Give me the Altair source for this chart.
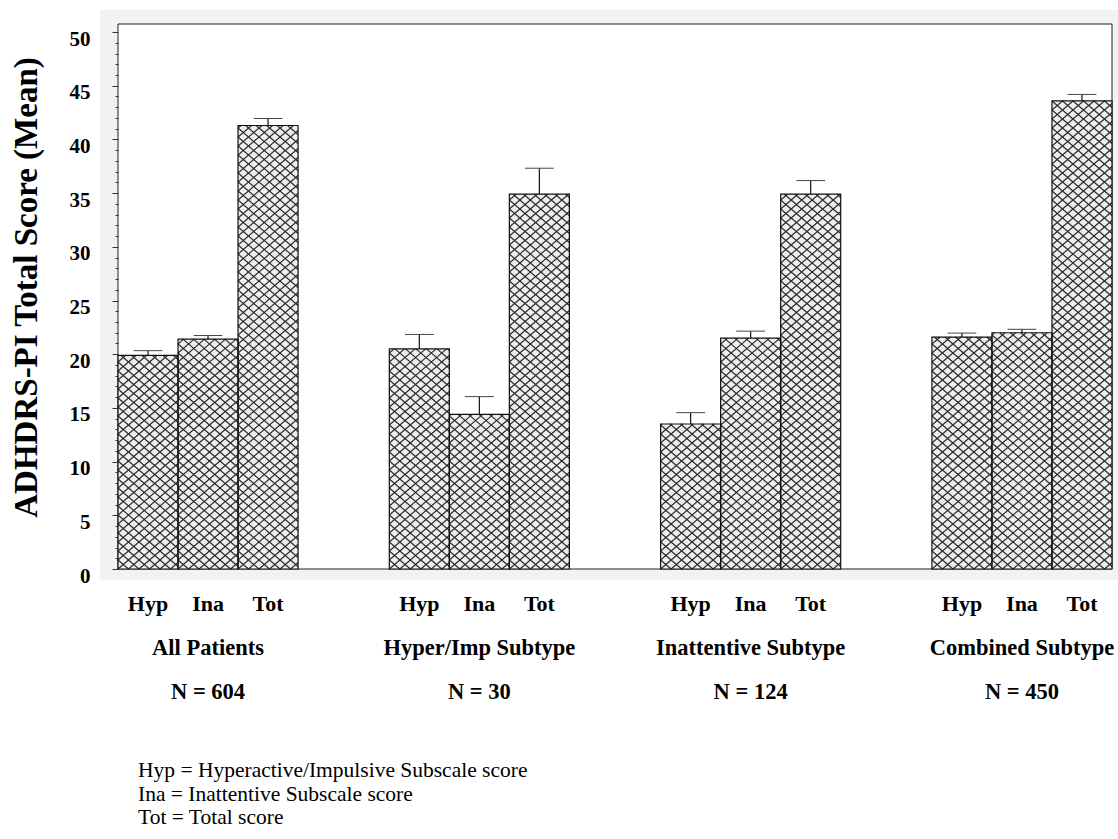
import math

import altair as alt
import pandas as pd

# ---- data -------------------------------------------------------------
groups = ["All Patients", "Hyper/Imp Subtype", "Inattentive Subtype", "Combined Subtype"]
group_n = [604, 30, 124, 450]
subscales = ["Hyp", "Ina", "Tot"]

hyp_mean = [19.9, 20.5, 13.5, 21.6]
ina_mean = [21.4, 14.4, 21.5, 22.0]
tot_mean = [41.3, 34.9, 34.9, 43.6]

hyp_err = [0.43, 1.34, 1.06, 0.37]
ina_err = [0.34, 1.65, 0.65, 0.32]
tot_err = [0.65, 2.42, 1.27, 0.59]

y_title = "ADHDRS-PI Total Score (Mean)"
y_ticks = list(range(0, 51))
footnote = [
    "Hyp = Hyperactive/Impulsive Subscale score",
    "Ina = Inattentive Subscale score",
    "Tot = Total score",
]

# ---- layout -----------------------------------------------------------
WIDTH, HEIGHT = 994, 545
GROUP_STEP = 4.52          # distance between group starts, in bar widths
X_MAX = 3 * GROUP_STEP + 3
Y_MAX = 50.75
FONT = "Liberation Serif"
HATCH_W, HATCH_H = 10.5, 9.0  # diamond size of the cross-hatch, px

means = {"Hyp": hyp_mean, "Ina": ina_mean, "Tot": tot_mean}
errs = {"Hyp": hyp_err, "Ina": ina_err, "Tot": tot_err}

rows = []
for gi, g in enumerate(groups):
    for si, s in enumerate(subscales):
        x0 = gi * GROUP_STEP + si
        m = means[s][gi]
        rows.append(dict(group=g, score=s, x0=x0, x1=x0 + 1, xc=x0 + 0.5,
                         mean=m, upper=m + errs[s][gi],
                         cap_l=x0 + 0.26, cap_r=x0 + 0.74))
bars = pd.DataFrame(rows)

group_df = pd.DataFrame({
    "group": groups,
    "nlabel": [f"N = {n}" for n in group_n],
    "gc": [gi * GROUP_STEP + 1.5 for gi in range(len(groups))],
})

# cross-hatch segments clipped to each bar, built in pixel space then
# converted back to data units so the scales place them
px_x = WIDTH / X_MAX
px_y = HEIGHT / Y_MAX
slope = HATCH_H / HATCH_W
hatch = []
for r in rows:
    bx0 = r["x0"] * px_x
    w = px_x
    h = r["mean"] * px_y
    for sign in (1, -1):
        k_lo = math.floor(-(slope * w) / HATCH_H) - 1
        k_hi = math.ceil((h + slope * w) / HATCH_H) + 1
        for k in range(k_lo, k_hi + 1):
            c = k * HATCH_H
            if sign == 1:
                ul, ur = max(0.0, -c / slope), min(w, (h - c) / slope)
            else:
                ul, ur = max(0.0, (c - h) / slope), min(w, c / slope)
            if ur - ul > 0.3:
                hatch.append(dict(hx=(bx0 + ul) / px_x,
                                  hy=(sign * slope * ul + c) / px_y,
                                  hx2=(bx0 + ur) / px_x,
                                  hy2=(sign * slope * ur + c) / px_y))
hatch = pd.DataFrame(hatch)

# ---- scales / axes ----------------------------------------------------
x_scale = alt.Scale(domain=[0, X_MAX], nice=False, zero=False)
y_scale = alt.Scale(domain=[0, Y_MAX], nice=False)

y_axis = alt.Axis(
    values=y_ticks,
    tickCount=len(y_ticks) + 5,
    labelExpr="datum.value % 5 === 0 ? datum.label : ''",
    labelOverlap=False,
    labelBound=False,
    labelFlush=False,
    labelOffset=7,
    tickSize={"condition": {"test": "datum.value % 5 === 0", "value": 6}, "value": 3},
    tickColor="#333333",
    domain=False,
    grid=False,
    labelFont=FONT, labelFontSize=21, labelFontWeight="bold", labelColor="black",
    labelPadding=22,
    title=y_title,
    titleFont=FONT, titleFontSize=33, titleFontWeight="bold", titleColor="black",
    titleAngle=270, titleX=-92, titleY=263, titleAlign="center", titleBaseline="middle",
    zindex=1,
)

one = pd.DataFrame({"k": [0]})

panel = alt.Chart(one).mark_rect(fill="#f2f2f2").encode(
    x=alt.value(-18), x2=alt.value(WIDTH + 6), y=alt.value(-14), y2=alt.value(HEIGHT + 11)
)
frame = alt.Chart(one).mark_rect(fill="white", stroke="#222222", strokeWidth=1).encode(
    x=alt.value(0), x2=alt.value(WIDTH), y=alt.value(0), y2=alt.value(HEIGHT)
)

base = alt.Chart(bars)

bar_fill = base.mark_rect(fill="#eeeeee").encode(
    x=alt.X("x0:Q", scale=x_scale, axis=None),
    x2="x1",
    y=alt.Y("mean:Q", scale=y_scale, axis=y_axis),
    y2=alt.datum(0),
)

hatch_lines = alt.Chart(hatch).mark_rule(color="#2a2a2a", strokeWidth=1.15).encode(
    x=alt.X("hx:Q", scale=x_scale, axis=None),
    x2="hx2",
    y=alt.Y("hy:Q", scale=y_scale),
    y2="hy2",
)

bar_outline = base.mark_rect(fillOpacity=0, stroke="#111111", strokeWidth=1.2).encode(
    x=alt.X("x0:Q", scale=x_scale, axis=None),
    x2="x1",
    y=alt.Y("mean:Q", scale=y_scale),
    y2=alt.datum(0),
)

err_stem = base.mark_rule(color="#111111", strokeWidth=1.2).encode(
    x=alt.X("xc:Q", scale=x_scale, axis=None),
    y=alt.Y("mean:Q", scale=y_scale),
    y2="upper",
)
err_cap = base.mark_rule(color="#444444", strokeWidth=1).encode(
    x=alt.X("cap_l:Q", scale=x_scale, axis=None),
    x2="cap_r",
    y=alt.Y("upper:Q", scale=y_scale),
)

sub_labels = base.mark_text(font=FONT, fontSize=22, fontWeight="bold",
                            baseline="alphabetic", color="black").encode(
    x=alt.X("xc:Q", scale=x_scale, axis=None),
    y=alt.value(587),
    text="score:N",
)
group_labels = alt.Chart(group_df).mark_text(font=FONT, fontSize=22.5, fontWeight="bold",
                                             baseline="alphabetic", color="black").encode(
    x=alt.X("gc:Q", scale=x_scale, axis=None),
    y=alt.value(631),
    text="group:N",
)
n_labels = alt.Chart(group_df).mark_text(font=FONT, fontSize=22.5, fontWeight="bold",
                                         baseline="alphabetic", color="black").encode(
    x=alt.X("gc:Q", scale=x_scale, axis=None),
    y=alt.value(675),
    text="nlabel:N",
)
notes = alt.Chart(one).mark_text(font=FONT, fontSize=21.5, align="left", baseline="alphabetic",
                                 lineBreak="\n", lineHeight=23.5, color="black").encode(
    x=alt.value(20), y=alt.value(753), text=alt.value("\n".join(footnote)),
)

chart = alt.layer(
    panel, frame, bar_fill, hatch_lines, bar_outline, err_stem, err_cap,
    sub_labels, group_labels, n_labels, notes,
).properties(
    width=WIDTH,
    height=HEIGHT,
    padding={"left": 118, "top": 24, "right": 6, "bottom": 270},
    autosize=alt.AutoSizeParams(type="none"),
    background="white",
).configure_view(strokeWidth=0)

chart.save("out.html", embed_options={"renderer": "svg", "actions": False})
